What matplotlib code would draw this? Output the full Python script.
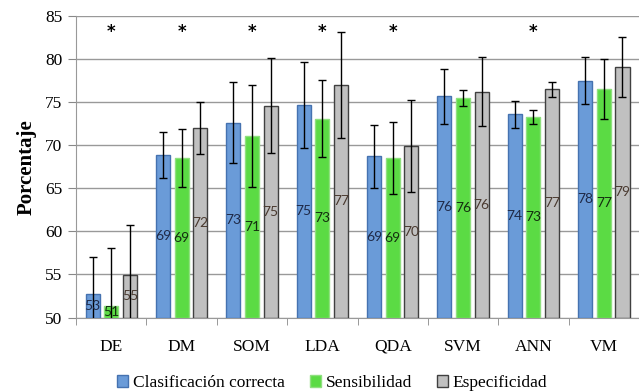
import matplotlib

matplotlib.use("Agg")
import matplotlib.pyplot as plt
import numpy as np

methods = ["DE", "DM", "SOM", "LDA", "QDA", "SVM", "ANN", "VM"]
series = ["Clasificación correcta", "Sensibilidad", "Especificidad"]

accuracy = [52.7, 68.9, 72.6, 74.7, 68.7, 75.7, 73.6, 77.5]
sensitivity = [51.3, 68.5, 71.1, 73.1, 68.5, 75.5, 73.3, 76.5]
specificity = [54.9, 72.0, 74.6, 77.0, 69.9, 76.2, 76.5, 79.1]

accuracy_err = [4.3, 2.65, 4.7, 5.0, 3.7, 3.2, 1.55, 2.75]
sensitivity_err = [6.8, 3.4, 5.9, 4.5, 4.2, 0.9, 0.8, 3.5]
specificity_err = [5.9, 3.0, 5.5, 6.1, 5.3, 4.0, 0.9, 3.5]

significant = [True, True, True, True, True, False, True, False]

fills = ["#6a9bd8", "#5bdb44", "#c0c0c0"]
edges = ["#4572b0", "#8fe07f", "#404040"]
label_colors = ["#1f2a48", "#142e10", "#4a3a30"]

fig = plt.figure(figsize=(6.39, 3.92), dpi=100)
ax = fig.add_axes([0.119, 0.19, 0.881, 0.769])

x = np.arange(len(methods))
width = 0.2
step = 0.265
values = [accuracy, sensitivity, specificity]
errors = [accuracy_err, sensitivity_err, specificity_err]

for i, (vals, errs) in enumerate(zip(values, errors)):
    pos = x + (i - 1) * step
    ax.bar(pos, np.array(vals) - 50, width, bottom=50, color=fills[i],
           edgecolor=edges[i], linewidth=1.0, label=series[i], zorder=3)
    ax.errorbar(pos, vals, yerr=errs, fmt="none", ecolor="black",
                elinewidth=1.0, capsize=2.6, capthick=1.0, zorder=4)
    for p, v in zip(pos, vals):
        ax.text(p, (50 + v) / 2, f"{int(np.floor(v + 0.5))}", ha="center",
                va="center", fontsize=10, family="Lato",
                color=label_colors[i], zorder=5)

for xi, s in zip(x, significant):
    if s:
        ax.text(xi, 83.2, "*", ha="center", va="center", fontsize=12,
                fontweight="bold", color="black")

ax.set_xlim(-0.5, len(methods) - 0.5)
ax.set_ylim(50, 85)
ax.set_yticks(range(50, 86, 5))
ax.set_xticks(x)
ax.set_xticklabels(methods, family="Liberation Serif", fontsize=12.5,
                   va="baseline")
ax.set_xticks(np.arange(-0.5, len(methods), 1.0), minor=True)
ax.tick_params(axis="x", which="major", length=0, pad=24)
ax.tick_params(axis="x", which="minor", length=5, color="#888888")
ax.tick_params(axis="y", length=6, color="#888888", labelsize=12.5, pad=4)
for t in ax.get_yticklabels():
    t.set_family("Liberation Serif")

ax.yaxis.grid(True, color="#999999", linewidth=1.0, zorder=0)
ax.set_axisbelow(True)
for side in ["top", "right"]:
    ax.spines[side].set_visible(False)
for side in ["left", "bottom"]:
    ax.spines[side].set_color("#999999")

ax.set_ylabel("Porcentaje", family="Liberation Serif", fontsize=15,
              fontweight="bold", labelpad=6)

ax.legend(loc="lower center", bbox_to_anchor=(0.455, -0.295), ncol=3,
          frameon=False, prop={"family": "Liberation Serif", "size": 12.5},
          handlelength=0.65, handleheight=0.65, handletextpad=0.25,
          columnspacing=1.45)

fig.savefig("out.png", dpi=100)
